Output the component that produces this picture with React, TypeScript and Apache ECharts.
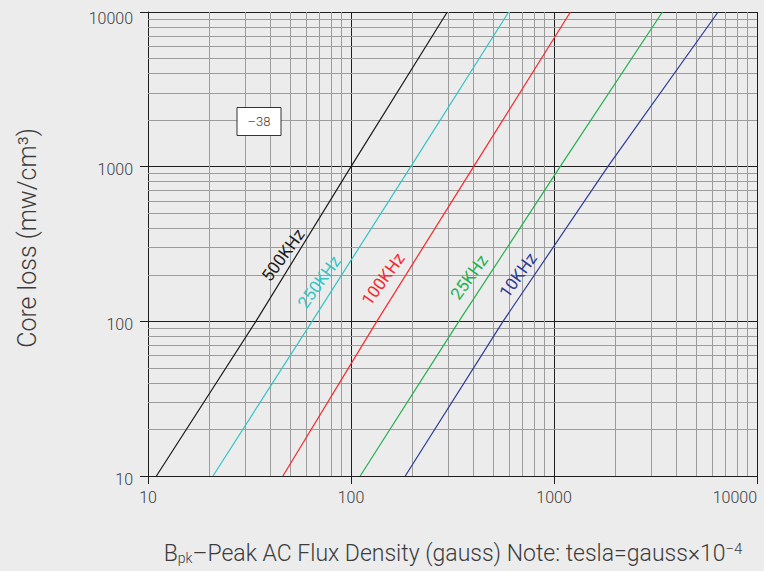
import React, { useEffect, useRef } from 'react';
import * as echarts from 'echarts';

// ---- data ----
const frequencies = ['500KHz', '250KHz', '100KHz', '25KHz', '10KHz'];
const coreLossLevels = [10, 100, 1000, 10000]; // mw/cm3 at which flux was read
const flux500k = [11.0, 34.0, 100, 298];
const flux250k = [20.9, 64.3, 197, 598];
const flux100k = [46.2, 134, 402, 1205];
const flux25k = [111, 340, 1072, 3420];
const flux10k = [185, 561, 1841, 6430];
const xTickLabels = [10, 100, 1000, 10000];
const yTickLabels = [10, 100, 1000, 10000];
const materialNote = '–38';

// ---- styling / layout ----
const lineColors = ['#1c1c1c', '#35c4c4', '#f5282c', '#22b14f', '#2d3b98'];
const labelCenters = [
  [283, 255],
  [319, 282],
  [383, 279],
  [469, 277],
  [518, 275],
];
const FONT = 'Roboto, "Liberation Sans", Arial, sans-serif';
const TEXT = '#3c3c3c';
const BG = '#ececec';

const seriesFlux = [flux500k, flux250k, flux100k, flux25k, flux10k];

function minorValues(): number[] {
  const out: number[] = [];
  for (let d = 10; d < 10000; d *= 10) {
    for (let m = 2; m <= 9; m++) out.push(m * d);
  }
  return out;
}

export default function App() {
  const ref = useRef<HTMLDivElement>(null);
  useEffect(() => {
    if (!ref.current) return;
    const chart = echarts.init(ref.current, null, { renderer: 'svg' });
    const minors = minorValues();
    const curves = frequencies.map((name, i) => ({
      name,
      type: 'line',
      z: 5,
      symbol: 'none',
      silent: true,
      lineStyle: { color: lineColors[i], width: 1.2 },
      data: seriesFlux[i].map((x, k) => [x, coreLossLevels[k]]),
    }));
    const option: any = {
      animation: false,
      backgroundColor: BG,
      grid: { left: 148, top: 12, right: 7, bottom: 95 },
      xAxis: {
        type: 'log',
        logBase: 10,
        min: xTickLabels[0],
        max: xTickLabels[xTickLabels.length - 1],
        axisLine: { show: true, lineStyle: { color: '#1e1e1e', width: 1 } },
        axisTick: { show: true, length: 8, inside: false, lineStyle: { color: '#1e1e1e' } },
        axisLabel: {
          color: TEXT,
          fontFamily: FONT,
          fontWeight: 300,
          fontSize: 16,
          margin: 13,
          alignMaxLabel: 'right',
          formatter: (v: number) => String(Math.round(v)),
        },
        splitLine: { show: true, lineStyle: { color: '#1e1e1e', width: 1 } },
      },
      yAxis: {
        type: 'log',
        logBase: 10,
        min: yTickLabels[0],
        max: yTickLabels[yTickLabels.length - 1],
        axisLine: { show: true, lineStyle: { color: '#1e1e1e', width: 1 } },
        axisTick: { show: true, length: 8, inside: false, lineStyle: { color: '#1e1e1e' } },
        axisLabel: {
          color: TEXT,
          fontFamily: FONT,
          fontSize: 16,
          margin: 15,
          formatter: (v: number) =>
            v >= yTickLabels[yTickLabels.length - 1]
              ? `{top|${Math.round(v)}}`
              : `{n|${Math.round(v)}}`,
          rich: {
            top: { fontFamily: FONT, fontWeight: 300, fontSize: 16, color: TEXT, padding: [12, 0, 0, 0] },
            n: { fontFamily: FONT, fontWeight: 300, fontSize: 16, color: TEXT, padding: [6, 0, 0, 0] },
          },
        },
        splitLine: { show: true, lineStyle: { color: '#1e1e1e', width: 1 } },
      },
      series: [
        {
          type: 'line',
          data: [],
          z: 1,
          silent: true,
          markLine: {
            silent: true,
            symbol: 'none',
            animation: false,
            label: { show: false },
            lineStyle: { color: '#9c9c9c', width: 1, type: 'solid' },
            data: [
              ...minors.map((v) => ({ xAxis: v })),
              ...minors.map((v) => ({ yAxis: v })),
            ],
          },
        },
        ...curves,
      ],
      graphic: [
        ...frequencies.map((name, i) => ({
          type: 'text',
          x: labelCenters[i][0],
          y: labelCenters[i][1],
          rotation: (54 * Math.PI) / 180,
          z: 10,
          style: {
            text: name,
            fill: lineColors[i],
            font: `400 17px ${FONT}`,
            align: 'center',
            verticalAlign: 'middle',
          },
        })),
        {
          type: 'rect',
          shape: { x: 237, y: 107.5, width: 44, height: 28 },
          z: 10,
          style: { fill: '#ffffff', stroke: '#333333', lineWidth: 1 },
        },
        {
          type: 'text',
          x: 259,
          y: 121.5,
          z: 11,
          style: {
            text: materialNote,
            fill: TEXT,
            font: `300 13px ${FONT}`,
            align: 'center',
            verticalAlign: 'middle',
          },
        },
        {
          type: 'text',
          x: 27,
          y: 238,
          rotation: Math.PI / 2,
          style: {
            text: 'Core loss (mw/cm³)',
            fill: TEXT,
            font: `300 25px ${FONT}`,
            align: 'center',
            verticalAlign: 'middle',
          },
        },
        {
          type: 'text',
          x: 453,
          y: 553,
          style: {
            text: 'B{sub|pk}–Peak AC Flux Density (gauss) Note: tesla=gauss×10{sup|−4}',
            fill: TEXT,
            font: `300 23px ${FONT}`,
            lineHeight: 24,
            align: 'center',
            verticalAlign: 'middle',
            rich: {
              sub: { fontSize: 14, fontFamily: FONT, fontWeight: 300, fill: TEXT, verticalAlign: 'bottom', lineHeight: 14 },
              sup: { fontSize: 15, fontFamily: FONT, fontWeight: 300, fill: TEXT, verticalAlign: 'top', lineHeight: 15 },
            },
          },
        },
      ],
    };
    chart.setOption(option);
    return () => chart.dispose();
  }, []);
  return (
    <div
      ref={ref}
      style={{ position: 'fixed', left: 0, top: 0, width: 764, height: 571 }}
    />
  );
}
